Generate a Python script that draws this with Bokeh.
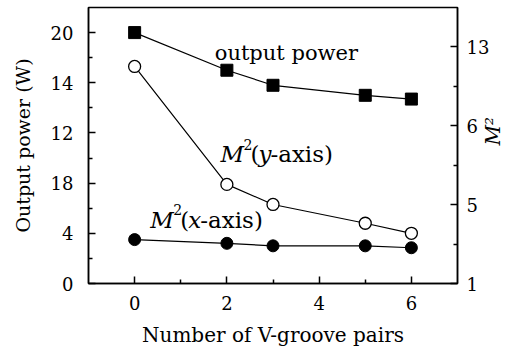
import math
from bokeh.plotting import figure
from bokeh.models import Range1d, LinearAxis, FixedTicker, Label
from bokeh.embed import file_html
from bokeh.resources import INLINE

# ---- data ----
grooves = [0, 2, 3, 5, 6]
output_power = [20.0, 17.0, 15.8, 15.0, 14.7]          # left axis units
m2_y_axis = [3.749, 2.255, 2.001, 1.763, 1.636]        # right axis units
m2_x_axis = [1.556, 1.509, 1.477, 1.477, 1.453]        # right axis units

left_ticks = [0, 4, 8, 12, 16, 20]
left_minor = [2, 6, 10, 14, 18]
left_labels = ["0", "4", "18", "12", "14", "20"]
right_ticks = [1, 2, 3, 4]
right_minor = [1.5, 2.5, 3.5]
right_labels = ["1", "5", "6", "13"]
x_ticks = [0, 2, 4, 6]
x_minor = [1, 3, 5]

FONT = "'DejaVu Serif', serif"

p = figure(width=520, height=351, x_range=Range1d(-1, 7), y_range=Range1d(0, 22),
           output_backend="svg", toolbar_location=None,
           min_border_left=88, min_border_right=53, min_border_top=7, min_border_bottom=68)
p.extra_y_ranges = {"m2": Range1d(1, 1 + 22 / 6.293)}
p.grid.visible = False
p.outline_line_color = "black"
p.outline_line_width = 1.5
p.background_fill_color = "white"
p.border_fill_color = "white"

def style(ax, ticks, minor, labels=None):
    ax.ticker = FixedTicker(ticks=ticks, minor_ticks=minor)
    if labels is not None:
        ax.major_label_overrides = {t: l for t, l in zip(ticks, labels)}
    ax.axis_line_color = "black"
    ax.axis_line_width = 1.5
    ax.major_tick_in = 7
    ax.major_tick_out = 0
    ax.minor_tick_in = 4
    ax.minor_tick_out = 0
    ax.major_tick_line_width = 1.5
    ax.minor_tick_line_width = 1.5
    ax.major_label_text_font = FONT
    ax.major_label_text_font_size = "18px"
    ax.major_label_text_color = "black"
    ax.axis_label_text_font = FONT
    ax.axis_label_text_font_size = "19px"
    ax.axis_label_text_font_style = "normal"
    ax.axis_label_text_color = "black"

style(p.xaxis[0], x_ticks, x_minor)
p.xaxis[0].axis_label = "Number of V-groove pairs"
p.xaxis[0].axis_label_text_font_size = "20px"
p.xaxis[0].major_label_standoff = 12
p.xaxis[0].axis_label_standoff = 10

style(p.yaxis[0], left_ticks, left_minor, left_labels)
p.yaxis[0].axis_label = "Output power (W)"
p.yaxis[0].major_label_standoff = 15
p.yaxis[0].axis_label_standoff = 14

rax = LinearAxis(y_range_name="m2")
style(rax, right_ticks, right_minor, right_labels)
rax.major_label_standoff = 9
use_axis_title = "axis_label_orientation" in rax.properties()
if use_axis_title:
    rax.axis_label = "M²"
    rax.axis_label_text_font_style = "italic"
    rax.axis_label_text_font_size = "20px"
    rax.axis_label_orientation = math.pi / 2
    rax.axis_label_standoff = 1
p.add_layout(rax, "right")

# ---- series ----
p.line(grooves, output_power, line_color="black", line_width=1.2)
p.scatter(grooves, output_power, marker="square", size=12, fill_color="black", line_color="black")

p.line(grooves, m2_y_axis, y_range_name="m2", line_color="black", line_width=1.2)
p.scatter(grooves, m2_y_axis, y_range_name="m2", marker="circle", size=12,
          fill_color="white", line_color="black", line_width=1.3)

p.line(grooves, m2_x_axis, y_range_name="m2", line_color="black", line_width=1.2)
p.scatter(grooves, m2_x_axis, y_range_name="m2", marker="circle", size=12,
          fill_color="black", line_color="black")

# ---- annotations ----
def lab(x, y, text, dx=0, dy=0, size="21px", style="normal", angle=0.0,
        align="left", baseline="alphabetic"):
    p.add_layout(Label(x=x, y=y, text=text, x_offset=dx, y_offset=dy, angle=angle,
                       text_font=FONT, text_font_size=size, text_font_style=style,
                       text_color="black", text_baseline=baseline, text_align=align))

lab(1.737, 18.38, "output power")

def m2label(x, y, var):
    lab(x, y, "M", 0, 0, size="23px", style="italic")
    lab(x, y, "2", 23, 10, size="14px")
    lab(x, y, "(", 30, 0, size="23px")
    lab(x, y, var, 38, 0, size="23px", style="italic")
    lab(x, y, "-axis)", 50, 0, size="23px")

m2label(1.86, 10.3, "y")
m2label(0.339, 5.1, "x")

if not use_axis_title:
    lab(7, 10.0, "M", 43, 0, size="20px", style="italic", angle=math.pi / 2,
        align="center", baseline="middle")
    lab(7, 10.0, "2", 32, 16, size="12px", angle=math.pi / 2, align="center",
        baseline="middle")

open("out.html", "w").write(file_html(p, INLINE))
